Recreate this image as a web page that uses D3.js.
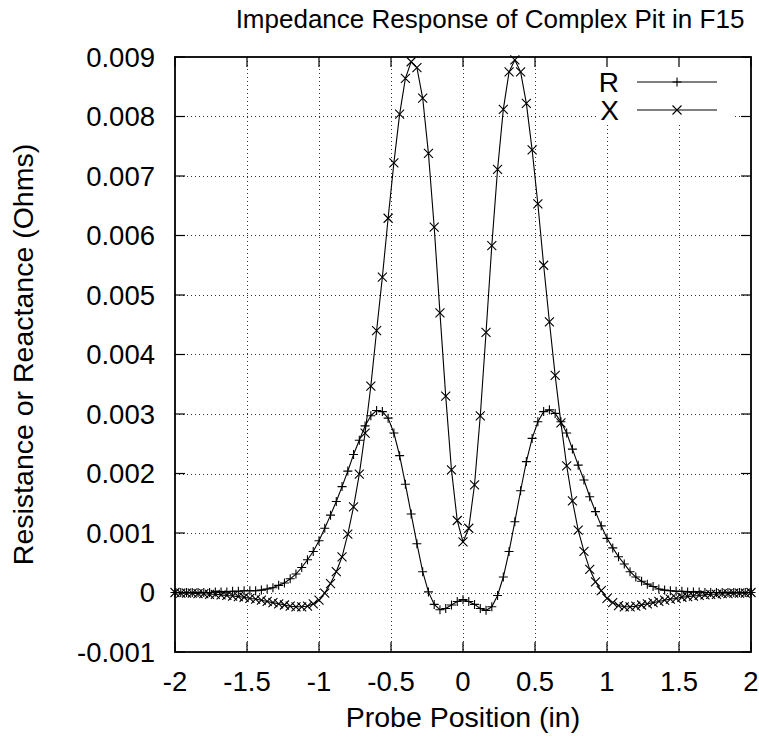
<!DOCTYPE html>
<html>
<head>
<meta charset="utf-8">
<script src="https://cdn.jsdelivr.net/npm/d3@7"></script>
<style>
  html, body { margin: 0; padding: 0; background: #fff; }
  svg text { font-family: "Liberation Sans", Arial, Helvetica, sans-serif; fill: #000; }
</style>
</head>
<body>
<div id="chart"></div>
<script>
// probe positions, step 0.04 in from -2 to 2
const positions = d3.range(101).map(i => +(-2 + i * 0.04).toFixed(2));

// resistance R (Ohms)
const resistance = [
  0.00000, 0.00000, 0.00000, 0.00000, 0.00000, 0.00000, 0.00000, 0.00001, 0.00001, 0.00001,
  0.00002, 0.00002, 0.00003, 0.00003, 0.00003, 0.00004, 0.00006, 0.00008, 0.00012, 0.00016,
  0.00023, 0.00031, 0.00042, 0.00055, 0.00069, 0.00087, 0.00108, 0.00130, 0.00153, 0.00178,
  0.00204, 0.00232, 0.00256, 0.00280, 0.00297, 0.00306, 0.00304, 0.00293, 0.00268, 0.00230,
  0.00182, 0.00132, 0.00082, 0.00035, 0.00001, -0.00020, -0.00029, -0.00027, -0.00021, -0.00015,
  -0.00012,
  -0.00015, -0.00020, -0.00027, -0.00030, -0.00024, -0.00005, 0.00026, 0.00069, 0.00119, 0.00171,
  0.00220, 0.00259, 0.00287, 0.00304, 0.00307, 0.00301, 0.00287, 0.00268, 0.00241, 0.00214,
  0.00189, 0.00161, 0.00136, 0.00112, 0.00091, 0.00075, 0.00060, 0.00048, 0.00035, 0.00026,
  0.00019, 0.00014, 0.00010, 0.00006, 0.00004, 0.00003, 0.00002, 0.00002, 0.00001, 0.00001,
  0.00001, 0.00000, 0.00000, 0.00000, 0.00000, 0.00000, 0.00000, 0.00000, 0.00000, 0.00000
];

// reactance X (Ohms)
const reactance = [
  0.00000, -0.00001, -0.00001, -0.00001, -0.00002, -0.00002, -0.00003, -0.00003, -0.00004, -0.00005,
  -0.00006, -0.00007, -0.00008, -0.00010, -0.00011, -0.00013, -0.00015, -0.00017, -0.00019, -0.00021,
  -0.00023, -0.00024, -0.00024, -0.00023, -0.00019, -0.00013, -0.00001, 0.00015, 0.00035, 0.00060,
  0.00098, 0.00144, 0.00199, 0.00268, 0.00347, 0.00440, 0.00530, 0.00629, 0.00722, 0.00804,
  0.00864, 0.00892, 0.00882, 0.00831, 0.00738, 0.00614, 0.00470, 0.00330, 0.00206, 0.00121,
  0.00085,
  0.00108, 0.00181, 0.00297, 0.00437, 0.00583, 0.00711, 0.00812, 0.00875, 0.00895, 0.00875,
  0.00822, 0.00744, 0.00653, 0.00550, 0.00455, 0.00365, 0.00285, 0.00213, 0.00154, 0.00105,
  0.00069, 0.00039, 0.00018, 0.00003, -0.00010, -0.00017, -0.00022, -0.00024, -0.00024, -0.00023,
  -0.00021, -0.00019, -0.00017, -0.00015, -0.00013, -0.00011, -0.00010, -0.00008, -0.00007, -0.00006,
  -0.00005, -0.00004, -0.00003, -0.00003, -0.00002, -0.00002, -0.00001, -0.00001, -0.00001, 0.00000
];

const xTicks = [-2, -1.5, -1, -0.5, 0, 0.5, 1, 1.5, 2];
const yTicks = [-0.001, 0, 0.001, 0.002, 0.003, 0.004, 0.005, 0.006, 0.007, 0.008, 0.009];

const W = 759, H = 742;
const pl = 175, pr = 751, pt = 57, pb = 652;

const svg = d3.select('#chart').append('svg')
  .attr('width', W).attr('height', H);

const x = d3.scaleLinear().domain([-2, 2]).range([pl, pr]);
const y = d3.scaleLinear().domain([-0.001, 0.009]).range([pb, pt]);

// grid
const grid = svg.append('g')
  .attr('stroke', '#333').attr('stroke-width', 1).attr('stroke-dasharray', '1,3');
grid.selectAll('.gx').data(xTicks.slice(1, -1)).enter().append('line')
  .attr('x1', d => Math.round(x(d)) + 0.5).attr('x2', d => Math.round(x(d)) + 0.5)
  .attr('y1', pt).attr('y2', pb);
grid.selectAll('.gy').data(yTicks.slice(1, -1)).enter().append('line')
  .attr('y1', d => Math.round(y(d)) + 0.5).attr('y2', d => Math.round(y(d)) + 0.5)
  .attr('x1', pl).attr('x2', pr);

// the key box hides the grid behind it
svg.append('rect')
  .attr('x', 597).attr('y', pt + 1).attr('width', 138).attr('height', 64)
  .attr('fill', '#fff');

// ticks on all four sides, pointing in
const tickLen = 10;
const ticks = svg.append('g').attr('stroke', '#000').attr('stroke-width', 1.2);
xTicks.forEach(d => {
  ticks.append('line').attr('x1', x(d)).attr('x2', x(d)).attr('y1', pb).attr('y2', pb - tickLen);
  ticks.append('line').attr('x1', x(d)).attr('x2', x(d)).attr('y1', pt).attr('y2', pt + tickLen);
});
yTicks.forEach(d => {
  ticks.append('line').attr('y1', y(d)).attr('y2', y(d)).attr('x1', pl).attr('x2', pl + tickLen);
  ticks.append('line').attr('y1', y(d)).attr('y2', y(d)).attr('x1', pr).attr('x2', pr - tickLen);
});

svg.append('rect')
  .attr('x', pl).attr('y', pt).attr('width', pr - pl).attr('height', pb - pt)
  .attr('fill', 'none').attr('stroke', '#000').attr('stroke-width', 1.8);

// tick labels
svg.append('g').selectAll('text').data(xTicks).enter().append('text')
  .attr('x', d => x(d)).attr('y', 691)
  .attr('text-anchor', 'middle').attr('font-size', 27.5)
  .text(d => String(d));
svg.append('g').selectAll('text').data(yTicks).enter().append('text')
  .attr('x', 155).attr('y', d => y(d)).attr('dy', '0.36em')
  .attr('text-anchor', 'end').attr('font-size', 27.5)
  .text(d => d === 0 ? '0' : d.toFixed(3));

// titles
svg.append('text').attr('x', 490).attr('y', 28)
  .attr('text-anchor', 'middle').attr('font-size', 26)
  .text('Impedance Response of Complex Pit in F15');
svg.append('text').attr('x', (pl + pr) / 2).attr('y', 727)
  .attr('text-anchor', 'middle').attr('font-size', 28.5)
  .text('Probe Position (in)');
svg.append('text')
  .attr('transform', `translate(33,${(pt + pb) / 2}) rotate(-90)`)
  .attr('text-anchor', 'middle').attr('font-size', 28.5)
  .text('Resistance or Reactance (Ohms)');

// series
const line = d3.line().x(d => x(d[0])).y(d => y(d[1]));
const rPts = positions.map((p, i) => [p, resistance[i]]);
const xPts = positions.map((p, i) => [p, reactance[i]]);

const plot = svg.append('g');
const s = 4.5;
function plus(g, px, py) {
  g.append('path').attr('d', `M${px - s},${py}H${px + s}M${px},${py - s}V${py + s}`)
    .attr('stroke', '#000').attr('stroke-width', 1.1).attr('fill', 'none');
}
function cross(g, px, py) {
  g.append('path').attr('d', `M${px - s},${py - s}L${px + s},${py + s}M${px - s},${py + s}L${px + s},${py - s}`)
    .attr('stroke', '#000').attr('stroke-width', 1.1).attr('fill', 'none');
}

plot.append('path').datum(rPts).attr('d', line)
  .attr('fill', 'none').attr('stroke', '#000').attr('stroke-width', 1.1);
plot.append('path').datum(xPts).attr('d', line)
  .attr('fill', 'none').attr('stroke', '#000').attr('stroke-width', 1.1);
rPts.forEach(d => plus(plot, x(d[0]), y(d[1])));
xPts.forEach(d => cross(plot, x(d[0]), y(d[1])));

// key
const key = svg.append('g');
const keyRows = [{ name: 'R', mark: plus, ky: 82 }, { name: 'X', mark: cross, ky: 110 }];
keyRows.forEach(r => {
  key.append('text').attr('x', 619).attr('y', r.ky).attr('dy', '0.36em')
    .attr('text-anchor', 'end').attr('font-size', 28).text(r.name);
  key.append('line').attr('x1', 637).attr('x2', 717).attr('y1', r.ky).attr('y2', r.ky)
    .attr('stroke', '#000').attr('stroke-width', 1.1);
  r.mark(key, 677, r.ky);
});
</script>
</body>
</html>
